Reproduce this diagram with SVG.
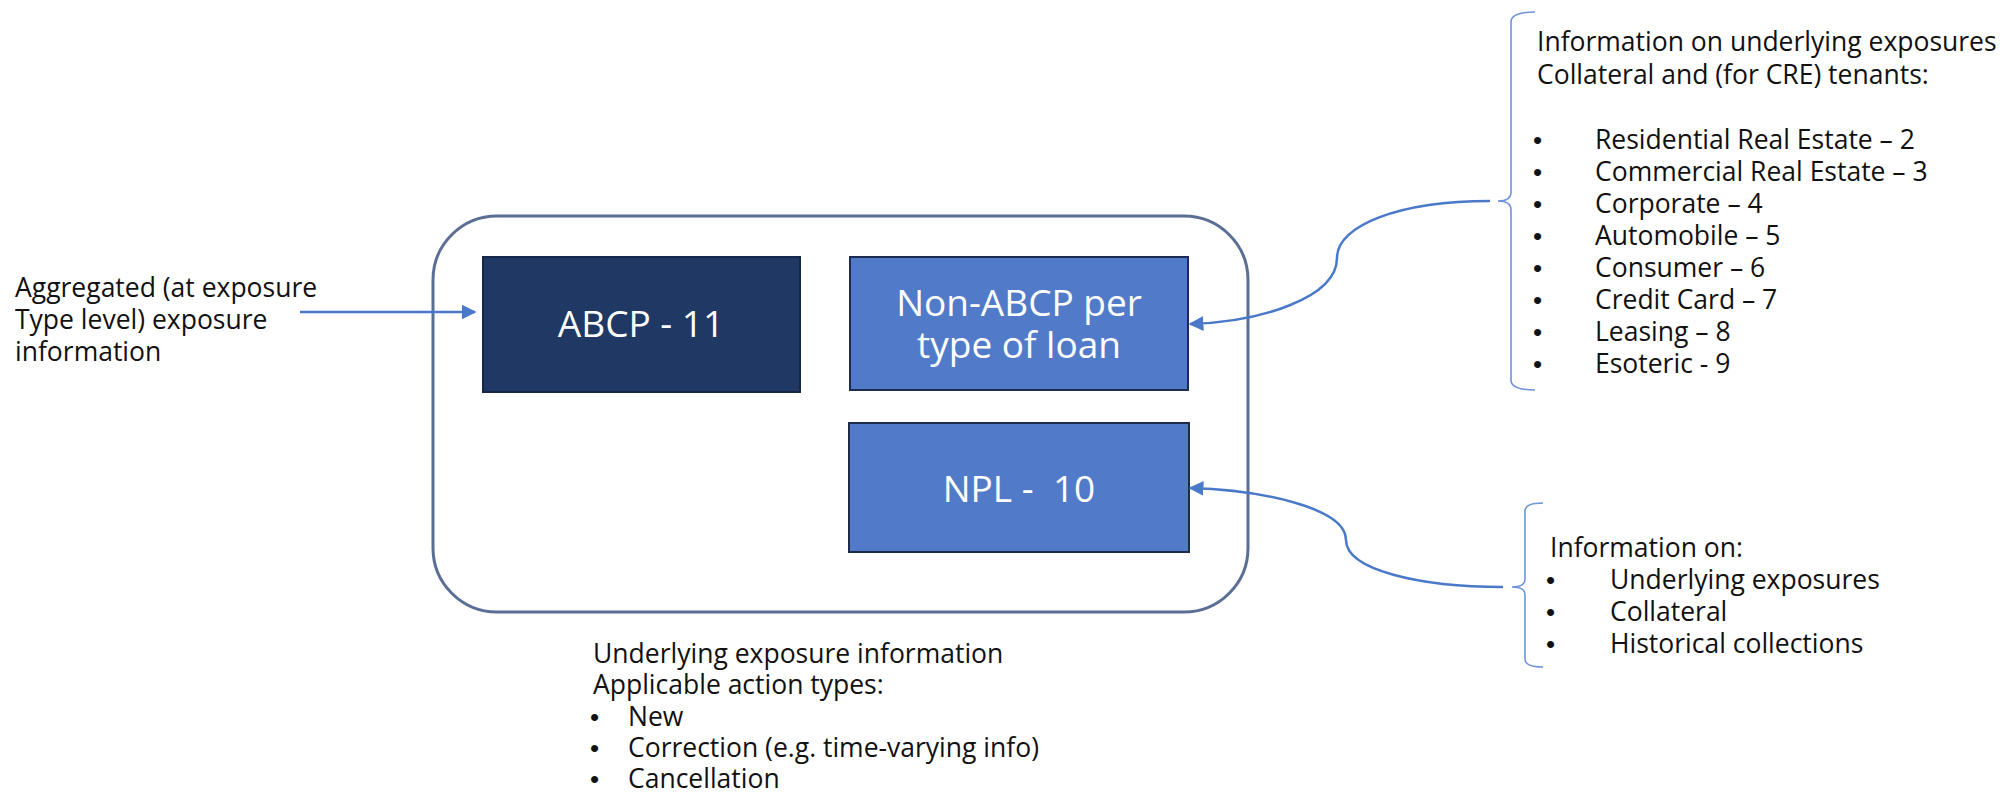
<svg xmlns="http://www.w3.org/2000/svg" width="2004" height="793" viewBox="0 0 2004 793">
<style>
  text { font-family: "Open Sans", "Noto Sans", "DejaVu Sans", sans-serif; }
  .t { font-size: 26.5px; fill: #111111; }
  .b { font-family: "Liberation Sans", Arial, sans-serif; font-size: 26px; fill: #111111; }
  .box-t { font-size: 37px; fill: #ffffff; text-anchor: middle; }
  .conn { fill: none; stroke: #4a79c9; stroke-width: 2.5; }
  .brace { fill: none; stroke: #6e93d8; stroke-width: 1.6; }
  .dark { fill: #203864; stroke: #15264a; stroke-width: 2; }
  .mid { fill: #517bc8; stroke: #1b2c50; stroke-width: 2; }
</style>
<defs>
  <marker id="arr" viewBox="0 0 10 10" refX="9" refY="5" markerWidth="6" markerHeight="6" markerUnits="strokeWidth" orient="auto">
    <path d="M0,0 L10,5 L0,10 Z" fill="#4a79c9"/>
  </marker>
</defs>
<rect width="2004" height="793" fill="#ffffff"/>

<g id="container">
  <rect x="433" y="216" width="815" height="396" rx="64" ry="64" fill="none" stroke="#5b6f95" stroke-width="3"/>
</g>

<g id="abcp">
  <rect class="dark" x="483" y="257" width="317" height="135"/>
  <text class="box-t" x="641" y="337">ABCP - 11</text>
</g>

<g id="non-abcp">
  <rect class="mid" x="850" y="257" width="338" height="133"/>
  <text class="box-t" x="1019" y="316">Non-ABCP per<tspan x="1019" dy="42">type of loan</tspan></text>
</g>

<g id="npl">
  <rect class="mid" x="849" y="423" width="340" height="129"/>
  <text class="box-t" x="1019" y="502" xml:space="preserve">NPL -  10</text>
</g>

<g id="left-label">
  <text class="t" x="15" y="297">Aggregated (at exposure</text>
  <text class="t" x="15" y="329">Type level) exposure</text>
  <text class="t" x="15" y="361">information</text>
</g>

<g id="top-right-label">
  <path class="brace" d="M1535,12 Q1511,12 1511,22 L1511,192 Q1511,201 1498,201 Q1511,201 1511,210 L1511,380 Q1511,390 1535,390"/>
  <text class="t" x="1537" y="51">Information on underlying exposures</text>
  <text class="t" x="1537" y="84">Collateral and (for CRE) tenants:</text>
  <text class="b" x="1533" y="149">•</text><text class="t" x="1595" y="149">Residential Real Estate – 2</text>
  <text class="b" x="1533" y="181">•</text><text class="t" x="1595" y="181">Commercial Real Estate – 3</text>
  <text class="b" x="1533" y="213">•</text><text class="t" x="1595" y="213">Corporate – 4</text>
  <text class="b" x="1533" y="245">•</text><text class="t" x="1595" y="245">Automobile – 5</text>
  <text class="b" x="1533" y="277">•</text><text class="t" x="1595" y="277">Consumer – 6</text>
  <text class="b" x="1533" y="309">•</text><text class="t" x="1595" y="309">Credit Card – 7</text>
  <text class="b" x="1533" y="341">•</text><text class="t" x="1595" y="341">Leasing – 8</text>
  <text class="b" x="1533" y="373">•</text><text class="t" x="1595" y="373">Esoteric - 9</text>
</g>

<g id="bottom-right-label">
  <path class="brace" d="M1543,503 Q1525,503 1525,511 L1525,579 Q1525,587 1512,587 Q1525,587 1525,595 L1525,659 Q1525,667 1543,667"/>
  <text class="t" x="1550" y="557">Information on:</text>
  <text class="b" x="1546" y="589">•</text><text class="t" x="1610" y="589">Underlying exposures</text>
  <text class="b" x="1546" y="621">•</text><text class="t" x="1610" y="621">Collateral</text>
  <text class="b" x="1546" y="653">•</text><text class="t" x="1610" y="653">Historical collections</text>
</g>

<g id="bottom-label">
  <text class="t" x="593" y="663">Underlying exposure information</text>
  <text class="t" x="593" y="694">Applicable action types:</text>
  <text class="b" x="590" y="726">•</text><text class="t" x="628" y="726">New</text>
  <text class="b" x="590" y="757">•</text><text class="t" x="628" y="757">Correction (e.g. time-varying info)</text>
  <text class="b" x="590" y="788">•</text><text class="t" x="628" y="788">Cancellation</text>
</g>

<g id="connectors">
  <line class="conn" x1="300" y1="312" x2="475" y2="312" marker-end="url(#arr)"/>
  <path class="conn" d="M1490,201 C1400,201 1337,225 1337,258 C1337,298 1260,322 1190,324" marker-end="url(#arr)"/>
  <path class="conn" d="M1503,587 C1420,587 1346,570 1346,540 C1346,508 1262,490 1190,488" marker-end="url(#arr)"/>
</g>
</svg>
